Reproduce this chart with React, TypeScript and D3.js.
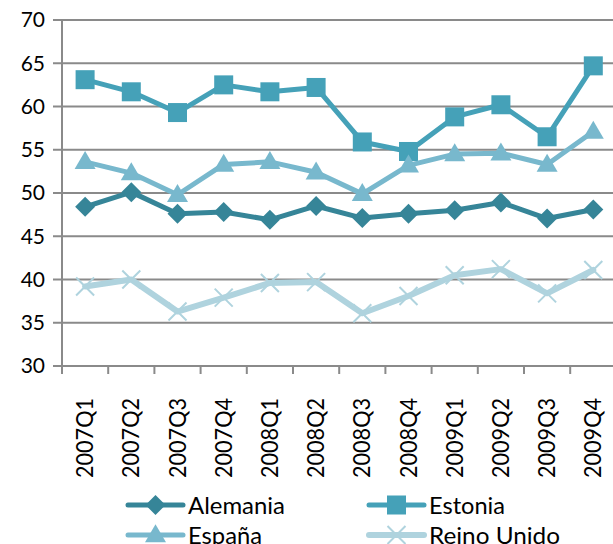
import React from "react";
import * as d3 from "d3";

const categories = ["2007Q1","2007Q2","2007Q3","2007Q4","2008Q1","2008Q2","2008Q3","2008Q4","2009Q1","2009Q2","2009Q3","2009Q4"];
const alemania = [48.4, 50.1, 47.6, 47.8, 46.9, 48.5, 47.1, 47.6, 48.0, 48.9, 47.05, 48.1];
const estonia = [63.1, 61.7, 59.3, 62.5, 61.7, 62.2, 55.9, 54.8, 58.8, 60.2, 56.5, 64.7];
const espana = [53.6, 52.3, 49.8, 53.3, 53.6, 52.4, 49.9, 53.2, 54.5, 54.6, 53.3, 57.1];
const reinoUnido = [39.2, 40.0, 36.3, 37.9, 39.6, 39.7, 36.1, 38.1, 40.5, 41.2, 38.4, 41.1];
const yTicks = [30, 35, 40, 45, 50, 55, 60, 65, 70];

const series = [
  { name: "Alemania", values: alemania, color: "#368598", marker: "diamond", lw: 5, textLen: 97 },
  { name: "Estonia", values: estonia, color: "#45a1b8", marker: "square", lw: 5, textLen: 76 },
  { name: "España", values: espana, color: "#78b8cd", marker: "triangle", lw: 5, textLen: 74 },
  { name: "Reino Unido", values: reinoUnido, color: "#afd3de", marker: "x", lw: 6, textLen: 131 },
];

const FONT = "Lato, 'Noto Sans', sans-serif";

function Marker({ type, x, y, color }: { type: string; x: number; y: number; color: string }) {
  if (type === "diamond") {
    const r = 10;
    return <path d={`M${x},${y - r}L${x + r},${y}L${x},${y + r}L${x - r},${y}Z`} fill={color} />;
  }
  if (type === "square") {
    const s = 19;
    return <rect x={x - s / 2} y={y - s / 2} width={s} height={s} fill={color} />;
  }
  if (type === "triangle") {
    const w = 21, h = 18;
    return <path d={`M${x},${y - h * 0.6}L${x + w / 2},${y + h * 0.4}L${x - w / 2},${y + h * 0.4}Z`} fill={color} />;
  }
  const r = 9;
  return (
    <path d={`M${x - r},${y - r}L${x + r},${y + r}M${x - r},${y + r}L${x + r},${y - r}`} stroke={color} strokeWidth={2} fill="none" />
  );
}

export default function App() {
  const W = 613, H = 544;
  const left = 62, right = 616.4, top = 20, bottom = 366;
  const x = d3.scaleBand<string>().domain(categories).range([left, right]);
  const y = d3.scaleLinear().domain([30, 70]).range([bottom, top]);
  const cx = (c: string) => (x(c) as number) + x.bandwidth() / 2;
  const line = d3.line<number>().x((_, i) => cx(categories[i])).y((v) => y(v));
  const grid = "#8a8a8a";

  const legendItems = [
    { s: series[0], lx: 128, ly: 505 },
    { s: series[1], lx: 369, ly: 505 },
    { s: series[2], lx: 128, ly: 535 },
    { s: series[3], lx: 369, ly: 535 },
  ];

  return (
    <svg width={W} height={H} style={{ position: "absolute", left: 0, top: 0, background: "#fff" }}>
      {yTicks.map((t) => (
        <g key={t}>
          <line x1={53} x2={right} y1={y(t)} y2={y(t)} stroke={grid} strokeWidth={2} />
          <text x={45} y={y(t)} dy="0.35em" textAnchor="end" fontFamily={FONT} fontSize={21} fill="#000">{t}</text>
        </g>
      ))}
      <line x1={left} x2={left} y1={top} y2={bottom} stroke={grid} strokeWidth={2} />
      {categories.map((c, i) => (
        <line key={"t" + i} x1={(x(c) as number)} x2={(x(c) as number)} y1={bottom} y2={bottom + 8} stroke={grid} strokeWidth={2} />
      ))}
      <line x1={right} x2={right} y1={bottom} y2={bottom + 8} stroke={grid} strokeWidth={2} />
      {categories.map((c) => (
        <text key={c} transform={`translate(${cx(c) + 8},398) rotate(-90)`} textAnchor="end" fontFamily={FONT} fontSize={24}
          textLength={80} lengthAdjust="spacingAndGlyphs" fill="#000">{c}</text>
      ))}
      {series.map((s) => (
        <g key={s.name}>
          <path d={line(s.values) as string} fill="none" stroke={s.color} strokeWidth={s.lw} strokeLinejoin="round" strokeLinecap="round" />
          {s.values.map((v, i) => (
            <Marker key={i} type={s.marker} x={cx(categories[i])} y={y(v)} color={s.color} />
          ))}
        </g>
      ))}
      {legendItems.map(({ s, lx, ly }) => (
        <g key={"l" + s.name}>
          <line x1={lx} x2={lx + 55} y1={ly} y2={ly} stroke={s.color} strokeWidth={s.lw} strokeLinecap="round" />
          <Marker type={s.marker} x={lx + 27.5} y={ly} color={s.color} />
          <text x={lx + 60} y={ly} dy="0.36em" fontFamily={FONT} fontSize={24} textLength={s.textLen} lengthAdjust="spacingAndGlyphs" fill="#000">{s.name}</text>
        </g>
      ))}
    </svg>
  );
}
